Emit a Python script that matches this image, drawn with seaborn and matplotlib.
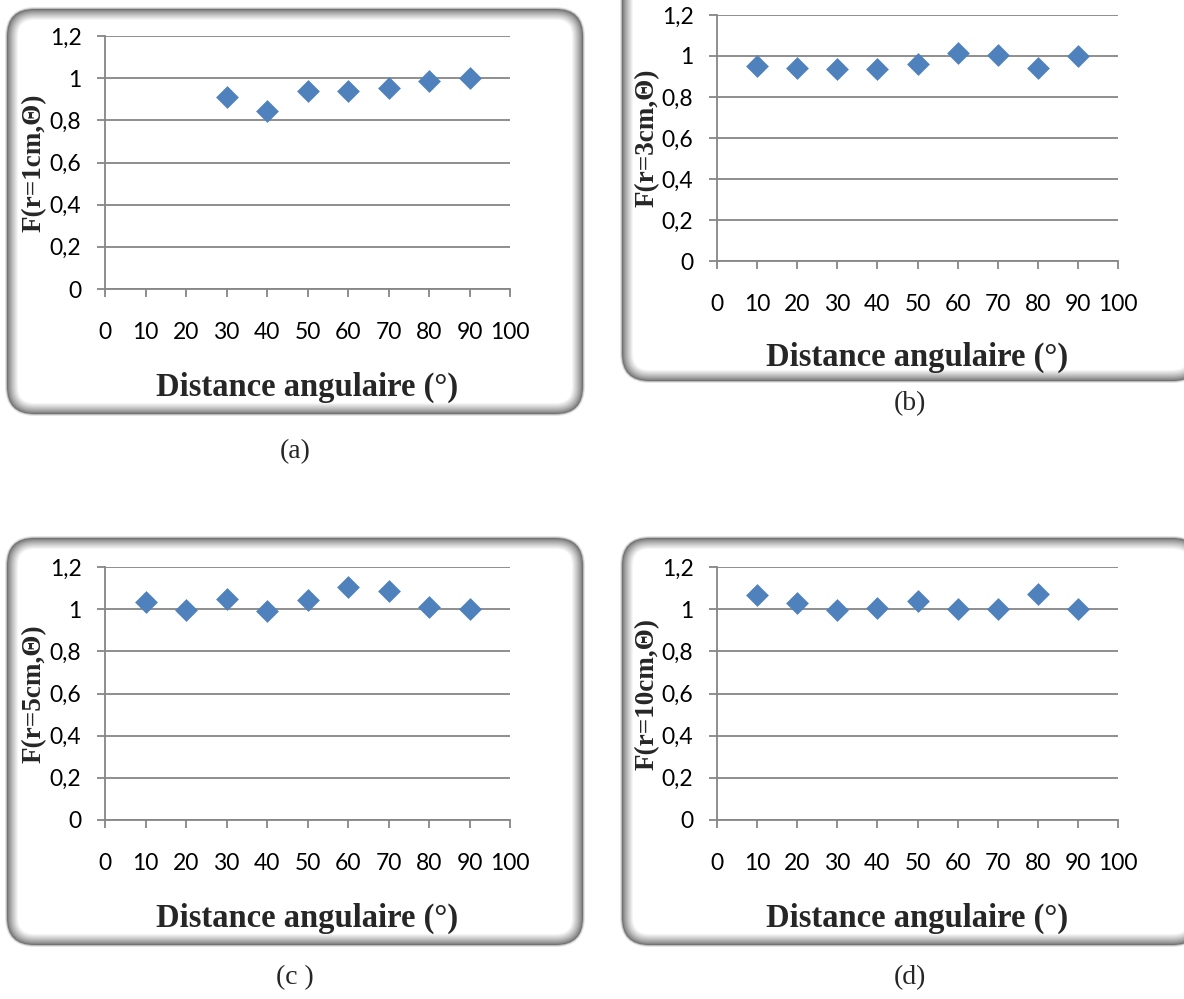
import numpy as np
import pandas as pd
import matplotlib
matplotlib.use("Agg")
import matplotlib.pyplot as plt
from matplotlib.patches import FancyBboxPatch
import seaborn as sns

# Angular distance (degrees) and anisotropy function values for each radius
angles_1cm = [30, 40, 50, 60, 70, 80, 90]
f_1cm = [0.912, 0.842, 0.940, 0.940, 0.953, 0.985, 1.000]

angles = [10, 20, 30, 40, 50, 60, 70, 80, 90]
f_3cm = [0.950, 0.943, 0.938, 0.938, 0.962, 1.017, 1.003, 0.940, 1.000]
f_5cm = [1.035, 0.997, 1.050, 0.993, 1.045, 1.103, 1.085, 1.010, 1.000]
f_10cm = [1.065, 1.027, 0.997, 1.005, 1.037, 1.002, 1.002, 1.070, 1.000]

ylabels = ["F(r=1cm,Θ)", "F(r=3cm,Θ)", "F(r=5cm,Θ)", "F(r=10cm,Θ)"]
panel_tags = ["(a)", "(b)", "(c )", "(d)"]
xlabel = "Distance angulaire (°)"
xticks = list(range(0, 101, 10))
yticks = [0, 0.2, 0.4, 0.6, 0.8, 1.0, 1.2]
ytick_labels = ["0", "0,2", "0,4", "0,6", "0,8", "1", "1,2"]

series = [(angles_1cm, f_1cm), (angles, f_3cm), (angles, f_5cm), (angles, f_10cm)]

sns.set_style("white")
plt.rcParams["font.family"] = ["Lato", "DejaVu Sans"]

W, H = 1184, 999
fig = plt.figure(figsize=(W / 100, H / 100), dpi=100)

GRAY = "#868686"
BLUE = "#4F81BD"

# layout in pixels: axes (left, top, right, bottom), frame (left, top, right, bottom)
axes_px = [(105, 36, 510, 289), (717, 15, 1118, 261),
           (105, 567, 510, 820), (717, 567, 1118, 820)]
frame_px = [(7, 9, 583, 414), (622, -30, 1200, 381),
            (7, 538, 583, 945), (622, 538, 1200, 945)]
tag_px = [(295, 452), (910, 404), (295, 978), (910, 978)]


def rounded_frame(l, t, r, b):
    """Bevelled rounded frame drawn in pixel units via inches transform."""
    steps = 12
    for i in range(steps):
        frac = i / (steps - 1)
        g = 0.45 + 0.55 * frac ** 0.8
        inset = i * 1.0
        x0 = (l + inset) / 100
        y0 = (H - b + inset) / 100
        w = (r - l - 2 * inset) / 100
        h = (b - t - 2 * inset) / 100
        rad = max(27 - inset, 6) / 100
        p = FancyBboxPatch((x0, y0), w, h,
                           boxstyle=f"round,pad=0,rounding_size={rad}",
                           transform=fig.dpi_scale_trans,
                           facecolor=(g, g, g), edgecolor="none",
                           zorder=-10 + i * 0.1)
        fig.patches.append(p)


for (l, t, r, b) in frame_px:
    # soft outer shadow
    for k, a in enumerate([0.10, 0.18]):
        off = 2 - k
        p = FancyBboxPatch(((l - off) / 100, (H - b - off) / 100),
                           (r - l + 2 * off) / 100, (b - t + 2 * off) / 100,
                           boxstyle=f"round,pad=0,rounding_size={(28 + off) / 100}",
                           transform=fig.dpi_scale_trans,
                           facecolor="black", alpha=a, edgecolor="none",
                           zorder=-11)
        fig.patches.append(p)
    rounded_frame(l, t, r, b)

for idx, ((x, y), (l, t, r, b)) in enumerate(zip(series, axes_px)):
    ax = fig.add_axes([l / W, (H - b) / H, (r - l) / W, (b - t) / H])
    ax.set_facecolor("none")
    df = pd.DataFrame({"angle": x, "F": y})
    sns.scatterplot(data=df, x="angle", y="F", ax=ax, marker="D", s=135,
                    color=BLUE, linewidth=0, clip_on=False, zorder=5)
    ax.set_xlim(0, 100)
    ax.set_ylim(0, 1.2)
    ax.set_xticks(xticks)
    ax.set_xticklabels([str(v) for v in xticks])
    ax.set_yticks(yticks)
    ax.set_yticklabels(ytick_labels)
    ax.grid(axis="y", color=GRAY, linewidth=1.3)
    ax.grid(axis="x", visible=False)
    ax.set_axisbelow(True)
    for s in ["top", "right"]:
        ax.spines[s].set_visible(False)
    for s in ["left", "bottom"]:
        ax.spines[s].set_color(GRAY)
        ax.spines[s].set_linewidth(1.3)
    ax.tick_params(axis="x", direction="out", length=6, width=1.3, color=GRAY,
                   pad=18, labelsize=16.5, labelcolor="black", bottom=True)
    ax.tick_params(axis="y", direction="out", length=6, width=1.3, color=GRAY,
                   pad=11, labelsize=16.5, labelcolor="black", left=True)

    ax.set_xlabel(xlabel, family=["Liberation Serif"], fontweight="bold",
                  fontsize=23.5, va="center")
    ax.xaxis.set_label_coords(0.5, -0.39)
    ax.set_ylabel(ylabels[idx], family=["Liberation Serif"], fontweight="bold",
                  fontsize=19.5, va="center", ha="center")
    ax.yaxis.set_label_coords(-0.175, 0.5)

for tag, (x, y) in zip(panel_tags, tag_px):
    fig.text(x / W, 1 - y / H, tag, family=["Liberation Serif"], fontsize=20,
             ha="center", va="center")

fig.savefig("out.png", dpi=100)
